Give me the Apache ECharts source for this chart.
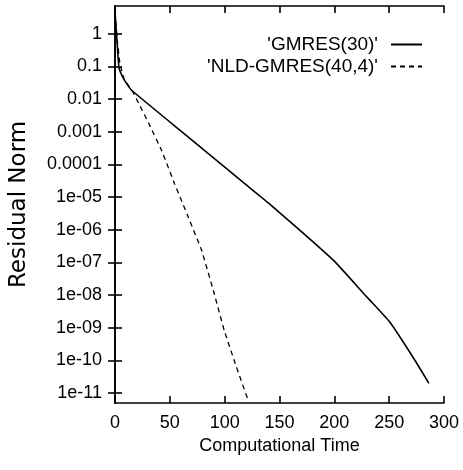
<!DOCTYPE html>
<html>
<head>
<meta charset="utf-8">
<script src="https://cdn.jsdelivr.net/npm/echarts@6/dist/echarts.min.js"></script>
<style>
  html, body { margin: 0; padding: 0; background: #fff; }
  #chart { width: 463px; height: 470px; }
</style>
</head>
<body>
<div id="chart"></div>
<script>
// GMRES(30) residual history (time, residual)
var gmresTime = [0, 1.8, 3.6, 6.3, 10, 15.4, 65.2, 115, 139.5, 172.1, 199.3, 230, 250.9, 273.6, 286.2]
var gmresNorm = [5.01, 0.617, 0.0912, 0.0525, 0.0316, 0.0182, 7.59e-4, 3.16e-5, 6.76e-6, 7.59e-7,
  1.15e-7, 8.51e-9, 1.45e-9, 1e-10, 2.0e-11]

// NLD-GMRES(40,4) residual history
var nldTime = [0, 1.8, 4.5, 8.2, 15.4, 21.7, 30.8, 42.6, 54.3, 67, 78.8, 89.7, 99.6, 110.5, 121.4]
var nldNorm = [4.37, 0.759, 0.12, 0.0417, 0.0182, 0.00724, 0.00178, 0.000263, 2.57e-5, 2.34e-6,
  2.45e-7, 1.38e-8, 8.32e-10, 6.61e-11, 6.03e-12]

var xTicks = [0, 50, 100, 150, 200, 250, 300]
var yTickValues = [1e-11, 1e-10, 1e-9, 1e-8, 1e-7, 1e-6, 1e-5, 1e-4, 1e-3, 1e-2, 1e-1, 1]
var yTickLabels = ['1e-11', '1e-10', '1e-09', '1e-08', '1e-07', '1e-06', '1e-05',
  '0.0001', '0.001', '0.01', '0.1', '1']

var sans = "'Liberation Sans', Arial, sans-serif"

function pairs(xs, ys) {
  return xs.map(function (x, i) { return [x, ys[i]] })
}

function yLabel(v) {
  v = Number(v)
  for (var i = 0; i < yTickValues.length; i++) {
    if (Math.abs(v / yTickValues[i] - 1) < 1e-6) return yTickLabels[i]
  }
  return ''
}

var chart = echarts.init(document.getElementById('chart'))

var axisLine = { lineStyle: { color: '#000', width: 1.6 } }
var tick = { inside: true, length: 7, lineStyle: { color: '#000', width: 1.6 } }
var yTick = { inside: true, length: 7, customValues: yTickValues, lineStyle: { color: '#000', width: 1.6 } }

chart.setOption({
  animation: false,
  grid: { left: 113, top: 6, right: 19, bottom: 67 },
  legend: {
    orient: 'vertical',
    right: 35,
    top: 30,
    align: 'right',
    itemWidth: 31,
    itemHeight: 10,
    itemGap: 3,
    itemStyle: { opacity: 0 },
    textStyle: { fontFamily: sans, fontSize: 19, color: '#000', padding: [0, 8, 0, 0] },
    data: ["'GMRES(30)'", "'NLD-GMRES(40,4)'"]
  },
  xAxis: [{
    type: 'value',
    min: 0,
    max: 300,
    interval: 50,
    name: 'Computational Time',
    nameLocation: 'middle',
    nameGap: 32,
    nameTextStyle: { fontFamily: sans, fontSize: 18, color: '#000' },
    axisLine: axisLine,
    axisTick: tick,
    splitLine: { show: false },
    axisLabel: { fontFamily: sans, fontSize: 18, color: '#000', margin: 11,
      formatter: function (v) { return xTicks.indexOf(v) >= 0 ? String(v) : '' } }
  }, {
    type: 'value',
    position: 'top',
    min: 0,
    max: 300,
    interval: 50,
    axisLine: axisLine,
    axisTick: tick,
    splitLine: { show: false },
    axisLabel: { show: false }
  }],
  yAxis: [{
    type: 'log',
    min: 5e-12,
    max: 7,
    name: 'Residual Norm',
    nameLocation: 'middle',
    nameGap: 84,
    nameTextStyle: { fontFamily: "'DejaVu Sans', sans-serif", fontSize: 23, color: '#000' },
    axisLine: axisLine,
    axisTick: yTick,
    splitLine: { show: false },
    axisLabel: { fontFamily: sans, fontSize: 18, color: '#000', margin: 13,
      customValues: yTickValues, formatter: yLabel }
  }, {
    type: 'log',
    position: 'right',
    min: 5e-12,
    max: 7,
    axisLine: axisLine,
    axisTick: yTick,
    splitLine: { show: false },
    axisLabel: { show: false }
  }],
  series: [{
    name: "'GMRES(30)'",
    type: 'line',
    data: pairs(gmresTime, gmresNorm),
    smooth: 0.15,
    showSymbol: false,
    symbol: 'none',
    lineStyle: { color: '#000', width: 1.6 },
    itemStyle: { color: '#000' }
  }, {
    name: "'NLD-GMRES(40,4)'",
    type: 'line',
    data: pairs(nldTime, nldNorm),
    smooth: 0.08,
    showSymbol: false,
    symbol: 'none',
    lineStyle: { color: '#000', width: 1.3, type: [5, 4] },
    itemStyle: { color: '#000' }
  }]
})
</script>
</body>
</html>
